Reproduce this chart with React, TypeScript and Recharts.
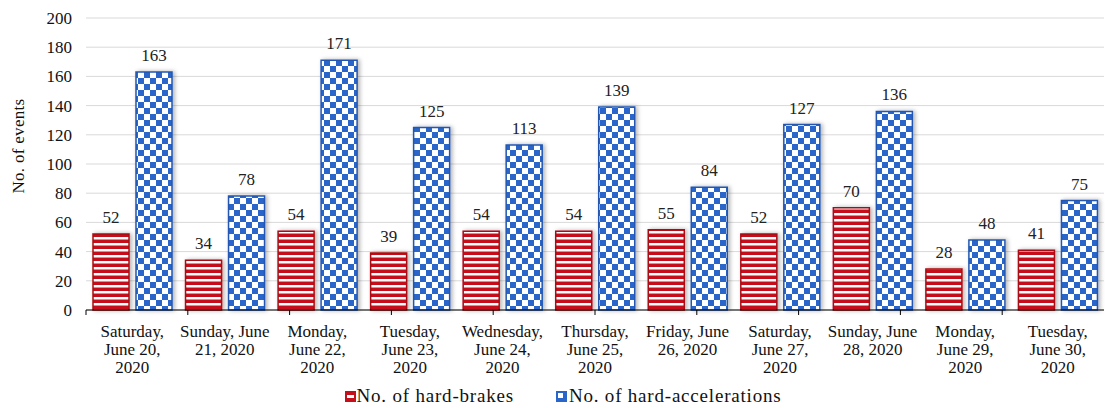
import { Bar, BarChart, CartesianGrid, LabelList, Legend, XAxis, YAxis } from "recharts";

const days = [
  "Saturday, June 20, 2020",
  "Sunday, June 21, 2020",
  "Monday, June 22, 2020",
  "Tuesday, June 23, 2020",
  "Wednesday, June 24, 2020",
  "Thursday, June 25, 2020",
  "Friday, June 26, 2020",
  "Saturday, June 27, 2020",
  "Sunday, June 28, 2020",
  "Monday, June 29, 2020",
  "Tuesday, June 30, 2020",
];

// how each day label wraps under the axis
const dayLines = [
  ["Saturday,", "June 20,", "2020"],
  ["Sunday, June", "21, 2020"],
  ["Monday,", "June 22,", "2020"],
  ["Tuesday,", "June 23,", "2020"],
  ["Wednesday,", "June 24,", "2020"],
  ["Thursday,", "June 25,", "2020"],
  ["Friday, June", "26, 2020"],
  ["Saturday,", "June 27,", "2020"],
  ["Sunday, June", "28, 2020"],
  ["Monday,", "June 29,", "2020"],
  ["Tuesday,", "June 30,", "2020"],
];

const hardBrakes = [52, 34, 54, 39, 54, 54, 55, 52, 70, 28, 41];
const hardAccelerations = [163, 78, 171, 125, 113, 139, 84, 127, 136, 48, 75];

const yTicks = [0, 20, 40, 60, 80, 100, 120, 140, 160, 180, 200];

const data = days.map((day, i) => ({
  day,
  brakes: hardBrakes[i],
  accel: hardAccelerations[i],
}));

// boundaries between categories, for the tick marks on the axis
const edgeTicks = days.map((_, i) => i).concat(days.length);

const FONT = "'Liberation Serif', 'Times New Roman', serif";
const RED = "#c5101c";
const RED_DARK = "#a80c14";
const BLUE = "#2a66c9";
const BLUE_DARK = "#2357b2";

function DayTick(props: any) {
  const { x, y, index } = props;
  const lines = dayLines[index] ?? [];
  return (
    <text x={x} y={y} textAnchor="middle" fontFamily={FONT} fontSize={17} fill="#111">
      {lines.map((l, i) => (
        <tspan key={i} x={x} dy={i === 0 ? 26 : 18}>
          {l}
        </tspan>
      ))}
    </text>
  );
}

const EmptyTick = () => <g />;

function LegendContent() {
  return (
    <div
      style={{
        display: "flex",
        justifyContent: "center",
        gap: 42,
        paddingLeft: 22,
        paddingTop: 3,
        fontFamily: FONT,
        fontSize: 19,
        letterSpacing: 0.8,
        color: "#111",
        lineHeight: "22px",
      }}
    >
      <span style={{ display: "inline-flex", alignItems: "center" }}>
        <svg width={11} height={11} style={{ marginRight: 1 }}>
          <rect x={0} y={0} width={11} height={11} fill={RED} />
          <rect x={2} y={4} width={7} height={3} fill="#fff" />
        </svg>
        No. of hard-brakes
      </span>
      <span style={{ display: "inline-flex", alignItems: "center" }}>
        <svg width={11} height={11} style={{ marginRight: 2 }}>
          <rect x={0} y={0} width={11} height={11} fill={BLUE} />
          <rect x={2} y={2} width={5} height={5} fill="#fff" />
        </svg>
        No. of hard-accelerations
      </span>
    </div>
  );
}

export default function App() {
  return (
    <div style={{ position: "absolute", left: 0, top: 0, width: 1110, height: 408, background: "#fff" }}>
      <BarChart
        width={1110}
        height={408}
        data={data}
        margin={{ top: 18, right: 6, left: 0, bottom: 0 }}
        barCategoryGap={7}
        barGap={7}
      >
        <defs>
          <pattern id="stripes" patternUnits="userSpaceOnUse" width={6} height={6}>
            <rect x={0} y={0} width={6} height={6} fill={RED} />
            <rect x={0} y={3} width={6} height={2.5} fill="#fff" />
          </pattern>
          <pattern id="checks" patternUnits="userSpaceOnUse" width={12} height={12}>
            <rect x={0} y={0} width={12} height={12} fill="#fff" />
            <rect x={0} y={0} width={6} height={6} fill={BLUE} />
            <rect x={6} y={6} width={6} height={6} fill={BLUE} />
          </pattern>
          <filter id="shadow" x="-30%" y="-10%" width="160%" height="120%">
            <feDropShadow dx={2} dy={0} stdDeviation={2} floodColor="#000" floodOpacity={0.3} />
          </filter>
        </defs>
        <CartesianGrid vertical={false} stroke="#d9d9d9" xAxisId="days" />
        {/* numeric axis only draws the baseline and the ticks between days */}
        <XAxis
          xAxisId={0}
          type="number"
          domain={[0, days.length]}
          ticks={edgeTicks}
          allowDataOverflow
          height={1}
          tick={EmptyTick}
          tickSize={5}
          tickLine={{ stroke: "#000" }}
          axisLine={{ stroke: "#000", strokeWidth: 1.2 }}
        />
        <XAxis
          xAxisId="days"
          dataKey="day"
          interval={0}
          height={71}
          tick={DayTick}
          tickSize={0}
          tickMargin={0}
          axisLine={false}
          tickLine={false}
        />
        <YAxis
          width={86}
          domain={[0, 200]}
          ticks={yTicks}
          axisLine={false}
          tickLine={false}
          tickSize={0}
          tickMargin={14}
          tick={{ fontFamily: FONT, fontSize: 17, fill: "#111" }}
          label={{
            content: () => (
              <text
                x={18}
                y={146}
                transform="rotate(-90 18 146)"
                textAnchor="middle"
                dominantBaseline="central"
                fontFamily={FONT}
                fontSize={17}
                letterSpacing={0.3}
                fill="#111"
              >
                No. of events
              </text>
            ),
          }}
        />
        <Legend verticalAlign="bottom" height={26} content={LegendContent} />
        <Bar
          xAxisId="days"
          dataKey="brakes"
          name="No. of hard-brakes"
          fill="url(#stripes)"
          stroke={RED_DARK}
          strokeWidth={1.5}
          filter="url(#shadow)"
          isAnimationActive={false}
        >
          <LabelList dataKey="brakes" position="top" offset={11} fontFamily={FONT} fontSize={17} fill="#222" />
        </Bar>
        <Bar
          xAxisId="days"
          dataKey="accel"
          name="No. of hard-accelerations"
          fill="url(#checks)"
          stroke={BLUE_DARK}
          strokeWidth={1.5}
          filter="url(#shadow)"
          isAnimationActive={false}
        >
          <LabelList dataKey="accel" position="top" offset={11} fontFamily={FONT} fontSize={17} fill="#222" />
        </Bar>
      </BarChart>
    </div>
  );
}
